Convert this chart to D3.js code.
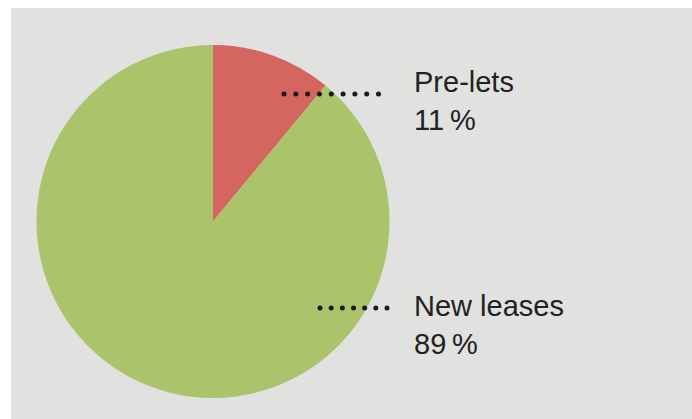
<!DOCTYPE html>
<html>
<head>
<meta charset="utf-8">
<script src="https://cdn.jsdelivr.net/npm/d3@7"></script>
<style>
  body { margin: 0; background: #fff; }
  svg { display: block; }
  text { font-family: "Liberation Sans", Arial, Helvetica, sans-serif; fill: #222; }
</style>
</head>
<body>
<script>
var categories = ["Pre-lets", "New leases"];
var values = [11, 89];
var colors = ["#d4665f", "#abc46b"];

var width = 692,
    height = 419;

var cx = 213, cy = 221.5, radius = 176.5;

// leader + label placement (layout only)
var labelLayout = [
  { x1: 284, x2: 378.5, dots: 9, y: 94, tx: 414, ty: 92 },
  { x1: 320, x2: 387, dots: 7, y: 308, tx: 414, ty: 316 }
];

var svg = d3.select("body").append("svg")
  .attr("width", width)
  .attr("height", height);

svg.append("rect")
  .attr("x", 11)
  .attr("y", 8)
  .attr("width", width - 11)
  .attr("height", height - 8)
  .attr("fill", "#e1e1e0");

var pie = d3.pie()
  .sort(null)
  .value(function (d) { return d; });

var arc = d3.arc()
  .innerRadius(0)
  .outerRadius(radius);

var g = svg.append("g")
  .attr("transform", "translate(" + cx + "," + cy + ")");

g.selectAll("path")
  .data(pie(values))
  .enter().append("path")
  .attr("fill", function (d, i) { return colors[i]; })
  .attr("d", arc);

var labels = svg.selectAll(".label")
  .data(categories)
  .enter().append("g")
  .attr("class", "label");

labels.each(function (d, i) {
  var l = labelLayout[i];
  var xs = d3.scaleLinear().domain([0, l.dots - 1]).range([l.x1, l.x2]);
  d3.select(this).selectAll("circle")
    .data(d3.range(l.dots))
    .enter().append("circle")
    .attr("cx", function (k) { return xs(k); })
    .attr("cy", l.y)
    .attr("r", 2.5)
    .attr("fill", "#1a1a1a");
});

labels.append("text")
  .attr("x", function (d, i) { return labelLayout[i].tx; })
  .attr("y", function (d, i) { return labelLayout[i].ty; })
  .attr("font-size", 29)
  .text(function (d) { return d; });

labels.append("text")
  .attr("x", function (d, i) { return labelLayout[i].tx; })
  .attr("y", function (d, i) { return labelLayout[i].ty + 38; })
  .attr("font-size", 29)
  .text(function (d, i) { return values[i] + "\u2009%"; });
</script>
</body>
</html>
